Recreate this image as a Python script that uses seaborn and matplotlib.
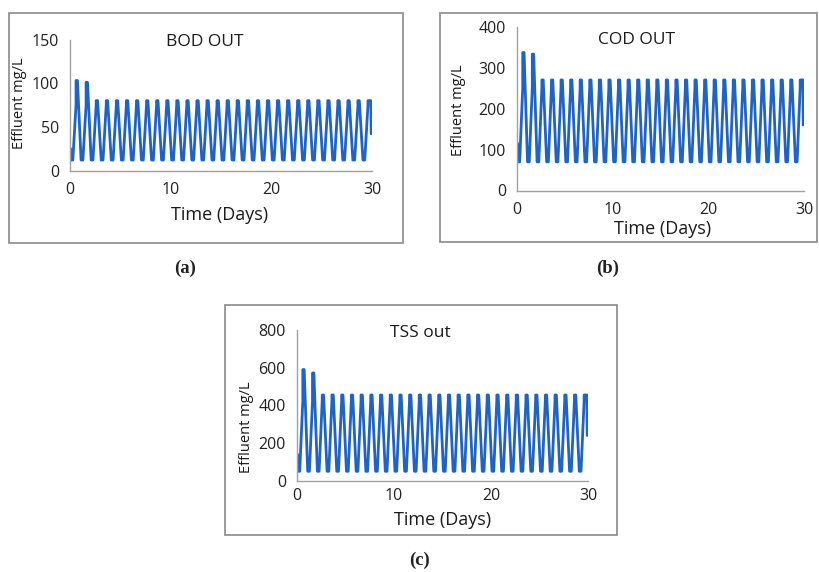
import matplotlib
matplotlib.use("Agg")
import pandas as pd
import seaborn as sns
import matplotlib.pyplot as plt
from matplotlib.patches import Rectangle
from matplotlib.ticker import MultipleLocator

# effluent over 30 days, one load cycle per day (mg/L)
n_days = 30
# where trough / step / peak fall inside each day
cycle_phase = [0.10, 0.28, 0.60, 0.60, 0.74]

bod_start, bod_step, bod_end = 25, 75, 42
bod_trough = [12, 12, 12, 12, 12, 12, 12, 12, 12, 12, 12, 12, 12, 12, 12,
              12, 12, 12, 12, 12, 12, 12, 12, 12, 12, 12, 12, 12, 12, 12]
bod_peak = [103, 101, 80, 80, 80, 80, 80, 80, 80, 80, 80, 80, 80, 80, 80,
            80, 80, 80, 80, 80, 80, 80, 80, 80, 80, 80, 80, 80, 80, 80]

cod_start, cod_step, cod_end = 115, 252, 160
cod_trough = [70, 70, 70, 70, 70, 70, 70, 70, 70, 70, 70, 70, 70, 70, 70,
              70, 70, 70, 70, 70, 70, 70, 70, 70, 70, 70, 70, 70, 70, 70]
cod_peak = [337, 333, 270, 270, 270, 270, 270, 270, 270, 270, 270, 270, 270, 270, 270,
            270, 270, 270, 270, 270, 270, 270, 270, 270, 270, 270, 270, 270, 270, 270]

tss_start, tss_step, tss_end = 140, 425, 240
tss_trough = [50, 50, 50, 50, 50, 50, 50, 50, 50, 50, 50, 50, 50, 50, 50,
              50, 50, 50, 50, 50, 50, 50, 50, 50, 50, 50, 50, 50, 50, 50]
tss_peak = [590, 572, 455, 455, 455, 455, 455, 455, 455, 455, 455, 455, 455, 455, 455,
            455, 455, 455, 455, 455, 455, 455, 455, 455, 455, 455, 455, 455, 455, 455]

W, H = 819, 572
BLUE = "#1f63c6"


def px(x, y):
    return x / W, 1 - y / H


def build_series(start, trough, step, peak, end):
    t = [0.0, 0.06]
    v = [start, start]
    for d in range(n_days):
        t += [d + p for p in cycle_phase]
        v += [trough[d], trough[d], step, peak[d], peak[d]]
    t += [29.88, 29.92]
    v += [peak[-1], end]
    return pd.DataFrame({"day": t, "mg_l": v})


sns.set_style("white")
plt.rcParams["font.family"] = ["Open Sans", "DejaVu Sans"]

fig = plt.figure(figsize=(W / 100, H / 100), dpi=100)

panels = [
    # data, yticks, yminor, axes px (left, right, y0, ytop), xpad, title, title px, xlabel px, ylabel px, box px, tag, tag px
    (build_series(bod_start, bod_trough, bod_step, bod_peak, bod_end), [0, 50, 100, 150], 10,
     (70, 372, 170.5, 39.5), 5.5, "BOD OUT", (205, 42), (220, 215), (20, 103),
     (9, 13, 403, 243), "(a)", (185, 268)),
    (build_series(cod_start, cod_trough, cod_step, cod_peak, cod_end), [0, 100, 200, 300, 400], 20,
     (517, 804, 190.5, 26.7), 5.5, "COD OUT", (637, 40), (663, 229), (458, 110),
     (440, 13, 817, 242), "(b)", (608, 268)),
    (build_series(tss_start, tss_trough, tss_step, tss_peak, tss_end), [0, 200, 400, 600, 800], 40,
     (297, 588, 480.7, 330), 2.5, "TSS out", (420, 333), (443, 520), (247, 427),
     (225, 305, 617, 535), "(c)", (420, 560)),
]

for (df, yticks, yminor, (xl, xr, yb, yt), xpad, title, tpos, xlpos, ylpos,
     box, tag, tagpos) in panels:
    ax = fig.add_axes([xl / W, 1 - yb / H, (xr - xl) / W, (yb - yt) / H])
    ax.set_facecolor("none")
    sns.lineplot(data=df, x="day", y="mg_l", ax=ax, sort=False, estimator=None,
                 color=BLUE, linewidth=2.0)
    ax.set_xlim(0, 30)
    ax.set_ylim(0, yticks[-1])
    ax.set_xticks([0, 10, 20, 30])
    ax.set_yticks(yticks)
    ax.yaxis.set_minor_locator(MultipleLocator(yminor))
    ax.set_xlabel("")
    ax.set_ylabel("")
    for s in ["top", "right"]:
        ax.spines[s].set_visible(False)
    for s in ["left", "bottom"]:
        ax.spines[s].set_color("#a0a0a0")
        ax.spines[s].set_linewidth(1.0)
    ax.tick_params(axis="y", which="both", direction="in", color="#a0a0a0",
                   labelsize=11.5, labelcolor="#222222", pad=8)
    ax.tick_params(axis="y", which="major", length=5)
    ax.tick_params(axis="y", which="minor", length=4)
    ax.tick_params(axis="x", direction="out", length=3, color="#a0a0a0",
                   labelsize=11.5, labelcolor="#222222", pad=xpad)

    fig.text(*px(*tpos), title, ha="center", va="center", fontsize=12.5, color="#1a1a1a")
    fig.text(*px(*xlpos), "Time (Days)", ha="center", va="center", fontsize=13, color="#1a1a1a")
    fig.text(*px(*ylpos), "Effluent mg/L", ha="center", va="center", rotation=90,
             fontsize=10.5, color="#1a1a1a")

    bx0, by0, bx1, by1 = box
    fig.add_artist(Rectangle(px(bx0, by1), (bx1 - bx0) / W, (by1 - by0) / H,
                             transform=fig.transFigure, fill=False,
                             edgecolor="#8a8a8a", linewidth=1.2))
    fig.text(*px(*tagpos), tag, ha="center", va="center", fontsize=13.5,
             fontweight="bold", family=["Liberation Serif", "DejaVu Serif"], color="#222222")

fig.savefig("out.png", dpi=100)
